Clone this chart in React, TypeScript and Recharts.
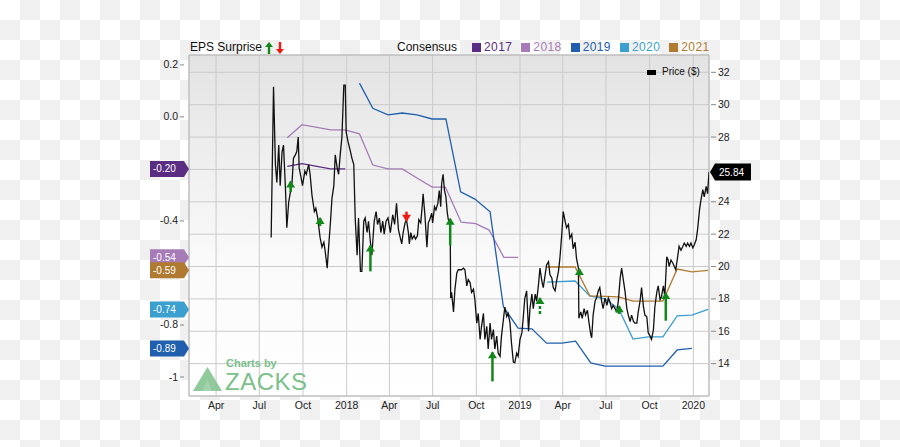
import {
  ComposedChart,
  Line,
  XAxis,
  YAxis,
  CartesianGrid,
  ReferenceArea,
  ReferenceDot,
} from "recharts";

const FONT = "'Liberation Sans', Arial, Helvetica, sans-serif";

// x values are day numbers counted from 1 Jan 2017
const dayRange = [33, 1128];
const monthTicks = [90, 181, 273, 365, 455, 546, 638, 730, 820, 911, 1003, 1095];
const monthLabels = ["Apr", "Jul", "Oct", "2018", "Apr", "Jul", "Oct", "2019", "Apr", "Jul", "Oct", "2020"];

const priceRange = [12, 33.07];
const priceTicks = [14, 16, 18, 20, 22, 24, 26, 28, 30, 32];

const epsRange = [-1.073, 0.238];
const epsTicks = [0.2, 0, -0.4, -0.8, -1];
const epsTickLabels = ["0.2", "0.0", "-0.4", "-0.8", "-1"];

// [day, price]
const price: [number, number][] = [
  [206, 21.8], [211, 31.1], [215, 26.3], [218, 25.2], [222, 27.5], [225, 25.0], [229, 27.1], [232, 27.5],
  [236, 24.9], [239, 22.4], [243, 24.0], [250, 25.2], [253, 26.7], [257, 26.9], [260, 27.1], [263, 28.0],
  [265, 26.1], [269, 25.5], [272, 25.0], [277, 25.9], [280, 25.7], [285, 26.3], [288, 25.7], [292, 24.4],
  [297, 23.4], [300, 23.6], [304, 23.0], [309, 21.8], [313, 21.2], [317, 21.5], [320, 20.9], [324, 19.9],
  [327, 21.2], [331, 22.8], [334, 24.2], [338, 25.0], [341, 26.9], [345, 26.1], [348, 25.7], [352, 27.1],
  [355, 28.0], [359, 31.2], [362, 31.2], [364, 28.3], [368, 27.7], [373, 27.1], [376, 26.7], [380, 26.3],
  [383, 23.0], [387, 20.7], [390, 23.0], [394, 19.7], [397, 19.7], [401, 22.8], [404, 23.0], [408, 22.1],
  [411, 22.8], [415, 21.5], [418, 20.7], [423, 22.8], [427, 23.4], [430, 22.6], [434, 23.0], [437, 22.1],
  [441, 22.8], [444, 22.0], [448, 22.8], [452, 23.0], [457, 22.1], [462, 23.2], [466, 22.6], [470, 23.9],
  [474, 22.3], [477, 21.9], [481, 21.4], [484, 22.1], [488, 22.7], [491, 22.9], [495, 22.1], [497, 21.4],
  [500, 22.1], [503, 21.7], [507, 21.9], [510, 21.7], [514, 21.9], [517, 22.9], [521, 22.7], [524, 23.7],
  [526, 24.5], [530, 23.1], [534, 21.2], [537, 22.7], [540, 22.9], [544, 23.3], [546, 22.7], [550, 23.7],
  [553, 23.5], [557, 23.9], [560, 24.7], [563, 23.7], [565, 25.1], [568, 25.7], [571, 24.7], [574, 24.3],
  [577, 23.3], [579, 22.9], [583, 22.7], [584, 18.05], [586, 18.4], [590, 17.2], [593, 18.6], [597, 19.6],
  [600, 19.8], [607, 19.8], [611, 19.9], [614, 19.8], [618, 18.8], [621, 19.2], [625, 19.0], [628, 18.4],
  [632, 18.6], [635, 17.95], [639, 16.5], [642, 17.1], [646, 15.5], [649, 16.3], [653, 17.1], [656, 15.5],
  [660, 16.3], [663, 14.9], [667, 16.5], [670, 15.5], [674, 16.1], [677, 14.9], [681, 15.7], [684, 14.65],
  [688, 14.45], [691, 15.7], [695, 16.7], [698, 17.5], [702, 16.9], [705, 17.1], [709, 16.5], [712, 15.3],
  [716, 14.1], [719, 14.05], [723, 14.65], [726, 14.45], [730, 15.5], [734, 15.9], [737, 16.9], [740, 18.0],
  [744, 18.5], [748, 16.0], [751, 17.4], [755, 18.3], [758, 17.4], [762, 18.3], [765, 17.85], [769, 18.9],
  [772, 19.9], [776, 19.1], [779, 18.7], [783, 19.5], [786, 20.1], [790, 20.3], [793, 19.5], [797, 19.3],
  [800, 18.7], [804, 18.5], [807, 19.1], [811, 19.7], [814, 20.5], [818, 22.0], [821, 23.4], [825, 22.8],
  [828, 22.4], [832, 22.6], [835, 21.75], [839, 22.0], [842, 21.1], [846, 21.5], [849, 20.5], [853, 19.9],
  [854, 16.8], [858, 17.2], [861, 16.8], [865, 17.4], [868, 17.0], [872, 17.3], [875, 16.6], [879, 15.8],
  [881, 15.6], [884, 17.0], [888, 17.85], [891, 18.05], [895, 18.5], [898, 18.7], [902, 17.85], [905, 17.4],
  [909, 18.05], [913, 17.6], [916, 18.05], [919, 17.85], [923, 17.4], [926, 17.6], [930, 17.4], [934, 17.2],
  [937, 17.85], [941, 19.3], [944, 19.9], [948, 19.1], [951, 18.5], [955, 17.4], [958, 17.0], [962, 16.6],
  [965, 17.0], [969, 16.6], [972, 16.5], [976, 16.5], [979, 17.2], [983, 17.9], [986, 18.7], [990, 17.5],
  [993, 17.0], [997, 16.9], [1000, 15.9], [1004, 15.7], [1007, 15.5], [1011, 16.1], [1014, 17.5], [1018, 18.4],
  [1021, 18.8], [1025, 17.95], [1028, 18.15], [1032, 18.8], [1035, 18.15], [1039, 20.6], [1042, 20.4], [1044, 20.0],
  [1048, 20.4], [1052, 20.2], [1055, 20.0], [1058, 19.8], [1062, 20.6], [1065, 21.25], [1069, 21.0], [1073, 21.25],
  [1076, 21.45], [1080, 21.25], [1083, 21.45], [1087, 21.25], [1090, 21.45], [1094, 21.15], [1097, 21.35], [1101, 21.65],
  [1104, 22.3], [1108, 23.5], [1111, 24.1], [1115, 24.75], [1118, 24.3], [1122, 24.95], [1125, 24.5], [1128, 25.84],
];

// consensus EPS estimates per fiscal year, [day, eps]
const consensusYears = ["2017", "2018", "2019", "2020", "2021"];
const consensusColors = ["#5b2d82", "#a67bb8", "#1f5fae", "#3b9fd0", "#b07b30"];
const cons2017: [number, number][] = [[240, -0.19], [271, -0.18], [331, -0.2], [362, -0.2]];
const cons2018: [number, number][] = [
  [240, -0.08], [271, -0.03], [331, -0.05], [361, -0.05], [392, -0.065], [420, -0.185], [452, -0.2], [482, -0.2],
  [513, -0.235], [545, -0.27], [573, -0.27], [606, -0.405], [637, -0.41], [665, -0.435], [696, -0.54], [726, -0.54],
];
const cons2019: [number, number][] = [
  [392, 0.13], [420, 0.033], [452, 0.008], [482, 0.015], [513, 0.008], [545, -0.008], [574, -0.008], [605, -0.288],
  [635, -0.316], [667, -0.365], [695, -0.73], [726, -0.812], [755, -0.815], [786, -0.87], [818, -0.87], [847, -0.862],
  [879, -0.946], [909, -0.958], [938, -0.958], [968, -0.958], [1000, -0.958], [1031, -0.958], [1061, -0.896], [1092, -0.89],
];
const cons2020: [number, number][] = [
  [787, -0.635], [846, -0.631], [877, -0.688], [909, -0.7], [938, -0.738], [968, -0.854], [1000, -0.846],
  [1031, -0.846], [1061, -0.765], [1092, -0.762], [1126, -0.74],
];
const cons2021: [number, number][] = [
  [787, -0.577], [846, -0.577], [877, -0.688], [909, -0.69], [938, -0.692], [968, -0.708], [1000, -0.708],
  [1031, -0.708], [1061, -0.585], [1092, -0.596], [1126, -0.59],
];
const consensusSeries = [cons2017, cons2018, cons2019, cons2020, cons2021];

// EPS surprise arrows (price positions of arrow tip and tail)
const surpriseDays = [247, 309, 415, 491, 583, 672, 772, 855, 939, 1037];
const surpriseHead = [25.25, 23.0, 21.3, 22.83, 22.95, 14.7, 18.05, 19.85, 17.54, 18.36];
const surpriseTail = [24.6, 22.5, 19.7, 23.39, 21.3, 12.9, 17.06, 19.45, 17.07, 16.65];
const surpriseBeat = [true, true, true, false, true, true, true, true, true, true];
const surpriseDashed = [false, false, false, false, false, false, true, false, false, false];

const GREEN = "#13881a";
const RED = "#f01a12";

const priceData = price.map(([d, p]) => ({ d, p }));
const consensusData = consensusSeries.map((s) => s.map(([d, v]) => ({ d, v })));
const badges = consensusSeries.map((s, i) => ({ value: s[s.length - 1][1], color: consensusColors[i] }));
const epsAxisTicks = [...epsTicks, ...badges.map((b) => b.value)];
const lastPrice = price[price.length - 1];

function MonthTick(props: any) {
  const { x, y, payload } = props;
  const i = monthTicks.indexOf(payload.value);
  return (
    <text x={x} y={y + 13} textAnchor="middle" fontSize={10.5} fontFamily={FONT} fill="#222">
      {monthLabels[i]}
    </text>
  );
}

function EpsTick(props: any) {
  const { x, y, payload } = props;
  const v = payload.value;
  const badge = badges.find((b) => b.value === v);
  if (badge) {
    return (
      <g>
        <polygon
          points={`${x - 39},${y - 8} ${x - 5},${y - 8} ${x},${y} ${x - 5},${y + 8} ${x - 39},${y + 8}`}
          fill={badge.color}
        />
        <text x={x - 36} y={y + 3.5} fontSize={10} fontFamily={FONT} fill="#fff">
          {v.toFixed(2)}
        </text>
      </g>
    );
  }
  const i = epsTicks.indexOf(v);
  return (
    <g>
      <line x1={x - 9} x2={x - 5} y1={y} y2={y} stroke="#888" />
      <text x={x - 11} y={y + 3.5} textAnchor="end" fontSize={10.5} fontFamily={FONT} fill="#222">
        {epsTickLabels[i]}
      </text>
    </g>
  );
}

function PriceTick(props: any) {
  const { x, y, payload } = props;
  if (Math.abs(payload.value - lastPrice[1]) < 1) return <g />;
  return (
    <g>
      <line x1={x + 2} x2={x + 7} y1={y} y2={y} stroke="#888" />
      <text x={x + 9} y={y + 3.5} fontSize={10.5} fontFamily={FONT} fill="#222">
        {payload.value}
      </text>
    </g>
  );
}

function PriceBadge(props: any) {
  const { cx, cy } = props;
  return (
    <g>
      <polygon
        points={`${cx + 1},${cy} ${cx + 6},${cy - 8.5} ${cx + 42},${cy - 8.5} ${cx + 42},${cy + 8.5} ${cx + 6},${cy + 8.5}`}
        fill="#000"
      />
      <text x={cx + 10} y={cy + 3.5} fontSize={10} fontFamily={FONT} fill="#fff">
        {lastPrice[1].toFixed(2)}
      </text>
    </g>
  );
}

function arrowHead(i: number) {
  return (props: any) => {
    const { cx, cy, index } = props;
    if (index !== 1) return <g key={`h${i}-${index}`} />;
    const color = surpriseBeat[i] ? GREEN : RED;
    const pts = surpriseBeat[i]
      ? `${cx},${cy - 1} ${cx - 4.5},${cy + 6} ${cx + 4.5},${cy + 6}`
      : `${cx},${cy + 1} ${cx - 4.5},${cy - 6} ${cx + 4.5},${cy - 6}`;
    return <polygon key={`h${i}`} points={pts} fill={color} />;
  };
}

function UpArrow({ color }: { color: string }) {
  return (
    <svg width={8} height={12} style={{ display: "block" }}>
      <polygon points="4,0 0,5 8,5" fill={color} />
      <rect x={2.8} y={4} width={2.4} height={8} fill={color} />
    </svg>
  );
}

function DownArrow({ color }: { color: string }) {
  return (
    <svg width={8} height={12} style={{ display: "block" }}>
      <rect x={2.8} y={0} width={2.4} height={8} fill={color} />
      <polygon points="4,12 0,7 8,7" fill={color} />
    </svg>
  );
}

export default function App() {
  return (
    <div
      style={{
        position: "absolute",
        left: 0,
        top: 0,
        width: 900,
        height: 447,
        background: "repeating-conic-gradient(#f0f0f0 0% 25%, #ffffff 0% 50%) 0 0 / 40px 40px",
        fontFamily: FONT,
        overflow: "hidden",
      }}
    >
      <ComposedChart width={900} height={447} margin={{ top: 55, right: 0, bottom: 0, left: 0 }}>
        <defs>
          <linearGradient id="plotBg" x1="0" y1="0" x2="0" y2="1">
            <stop offset="0" stopColor="#e3e3e3" />
            <stop offset="0.6" stopColor="#fafafa" />
            <stop offset="1" stopColor="#ffffff" />
          </linearGradient>
        </defs>
        <CartesianGrid yAxisId="price" stroke="#cbcbcb" fill="url(#plotBg)" fillOpacity={1} />
        <XAxis
          type="number"
          dataKey="d"
          domain={dayRange}
          ticks={monthTicks}
          interval={0}
          allowDataOverflow
          height={51}
          axisLine={false}
          tickLine={false}
          tickSize={0}
          tickMargin={0}
          tick={(p: any) => <MonthTick {...p} />}
        />
        <YAxis
          yAxisId="eps"
          orientation="left"
          type="number"
          domain={epsRange}
          ticks={epsAxisTicks}
          interval={0}
          allowDataOverflow
          width={189}
          axisLine={false}
          tickLine={false}
          tickSize={0}
          tickMargin={0}
          tick={(p: any) => <EpsTick {...p} />}
        />
        <YAxis
          yAxisId="price"
          orientation="right"
          type="number"
          domain={priceRange}
          ticks={priceTicks}
          interval={0}
          allowDataOverflow
          width={191}
          axisLine={false}
          tickLine={false}
          tickSize={0}
          tickMargin={0}
          tick={(p: any) => <PriceTick {...p} />}
        />
        {consensusData.map((data, i) => (
          <Line
            key={consensusYears[i]}
            yAxisId="eps"
            data={data}
            dataKey="v"
            type="linear"
            stroke={consensusColors[i]}
            strokeWidth={1.3}
            dot={false}
            activeDot={false}
            isAnimationActive={false}
          />
        ))}
        <Line
          yAxisId="price"
          data={priceData}
          dataKey="p"
          type="linear"
          stroke="#111"
          strokeWidth={1.3}
          dot={false}
          activeDot={false}
          isAnimationActive={false}
        />
        {surpriseDays.map((d, i) => (
          <Line
            key={`s${i}`}
            yAxisId="price"
            data={[
              { d, p: surpriseTail[i] },
              { d, p: surpriseHead[i] },
            ]}
            dataKey="p"
            type="linear"
            stroke={surpriseBeat[i] ? GREEN : RED}
            strokeWidth={2.5}
            strokeDasharray={surpriseDashed[i] ? "3 2" : undefined}
            dot={arrowHead(i)}
            activeDot={false}
            isAnimationActive={false}
          />
        ))}
        <ReferenceArea
          yAxisId="price"
          x1={dayRange[0]}
          x2={dayRange[1]}
          y1={priceRange[0]}
          y2={priceRange[1]}
          fill="none"
          stroke="#b8b8b8"
          ifOverflow="visible"
        />
        <ReferenceDot
          yAxisId="price"
          x={lastPrice[0]}
          y={lastPrice[1]}
          r={0}
          ifOverflow="visible"
          shape={(p: any) => <PriceBadge {...p} />}
        />
      </ComposedChart>

      {/* EPS surprise legend */}
      <div style={{ position: "absolute", left: 190, top: 41, display: "flex", alignItems: "center", fontSize: 12, color: "#111" }}>
        <span style={{ lineHeight: "13px", marginRight: 3 }}>EPS Surprise</span>
        <UpArrow color={GREEN} />
        <span style={{ width: 3 }} />
        <DownArrow color={RED} />
      </div>

      {/* consensus legend */}
      <div style={{ position: "absolute", left: 397, top: 41, display: "flex", alignItems: "center", fontSize: 12 }}>
        <span style={{ lineHeight: "13px", color: "#111", marginRight: 15 }}>Consensus</span>
        {consensusYears.map((y, i) => (
          <div key={y} style={{ display: "flex", alignItems: "center", marginRight: 9 }}>
            <span style={{ width: 9, height: 9, background: consensusColors[i], marginRight: 3 }} />
            <span style={{ lineHeight: "13px", color: consensusColors[i], letterSpacing: 0.4 }}>{y}</span>
          </div>
        ))}
      </div>

      {/* price legend */}
      <div style={{ position: "absolute", left: 647, top: 66, display: "flex", alignItems: "center", fontSize: 10, color: "#111" }}>
        <span style={{ width: 9, height: 5, background: "#000", marginRight: 6 }} />
        <span style={{ lineHeight: "12px" }}>Price ($)</span>
      </div>

      {/* watermark */}
      <svg width={130} height={42} style={{ position: "absolute", left: 190, top: 354 }}>
        <polygon points="3,37 32,37 17.5,13" fill="#7cc08b" opacity={0.85} />
        <polygon points="12,37 22,37 17.5,26" fill="#a7d6b1" opacity={0.8} />
        <text x={36} y={13} fontSize={11} fontWeight="bold" fontFamily={FONT} fill="#7cc08b">
          Charts by
        </text>
        <text x={35} y={36} fontSize={24} fontFamily={FONT} fill="#7cc08b" letterSpacing={0.5}>
          ZACKS
        </text>
      </svg>
    </div>
  );
}
